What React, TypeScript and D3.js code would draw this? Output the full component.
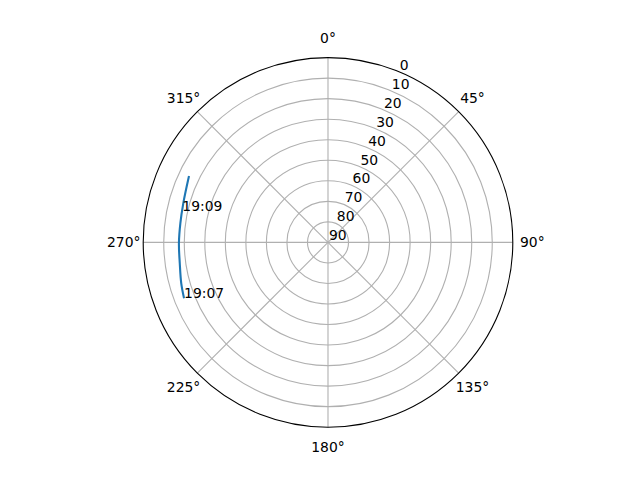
import React, { useEffect, useRef } from 'react';
import * as d3 from 'd3';

// satellite pass (azimuth deg clockwise from N, elevation deg)
const azimuth = [248.8, 254.4, 262.0, 269.7, 277.4, 285.1, 295.5];
const elevation = [14.8, 15.8, 17.1, 17.4, 17.5, 17.0, 15.0];
const annotations = [
  { label: '19:07', az: 248.8, el: 14.8 },
  { label: '19:09', az: 282.3, el: 17.4 },
];
const thetaTicks = [0, 45, 90, 135, 180, 225, 270, 315];
const radialTicks = [0, 10, 20, 30, 40, 50, 60, 70, 80, 90];

const App: React.FC = () => {
  const svgRef = useRef<SVGSVGElement>(null);

  useEffect(() => {
    if (!svgRef.current) return;
    d3.select(svgRef.current).selectAll('*').remove();

    const width = 640;
    const height = 480;
    const cx = 328;
    const cy = 242.4;
    const radius = 184.8;
    const font = 'DejaVu Sans, sans-serif';
    const fontSize = 13.9;

    const svg = d3
      .select(svgRef.current)
      .attr('width', width)
      .attr('height', height);

    svg.append('rect').attr('width', width).attr('height', height).attr('fill', 'white');

    const g = svg.append('g').attr('transform', `translate(${cx}, ${cy})`);

    // elevation 90 at centre, 0 at rim
    const r = d3.scaleLinear().domain([90, 0]).range([0, radius]);
    const toRad = (deg: number) => (deg * Math.PI) / 180;
    const px = (az: number, el: number) => r(el) * Math.sin(toRad(az));
    const py = (az: number, el: number) => -r(el) * Math.cos(toRad(az));

    // grid circles
    g.selectAll('circle.grid')
      .data(radialTicks.filter((d) => d > 0 && d < 90))
      .enter()
      .append('circle')
      .attr('r', (d) => r(d))
      .attr('fill', 'none')
      .attr('stroke', '#b0b0b0')
      .attr('stroke-width', 1.1);

    // spokes
    g.selectAll('line.spoke')
      .data(thetaTicks)
      .enter()
      .append('line')
      .attr('x1', 0)
      .attr('y1', 0)
      .attr('x2', (d) => px(d, 0))
      .attr('y2', (d) => py(d, 0))
      .attr('stroke', '#b0b0b0')
      .attr('stroke-width', 1.1);

    // outer spine
    g.append('circle')
      .attr('r', r(0))
      .attr('fill', 'none')
      .attr('stroke', 'black')
      .attr('stroke-width', 1.1);

    // theta labels
    const labelR = radius + 19.5;
    g.selectAll('text.theta')
      .data(thetaTicks)
      .enter()
      .append('text')
      .attr('x', (d) => labelR * Math.sin(toRad(d)))
      .attr('y', (d) => -labelR * Math.cos(toRad(d)))
      .attr('dy', '0.35em')
      .attr('text-anchor', 'middle')
      .attr('font-family', font)
      .attr('font-size', fontSize)
      .text((d) => `${d}°`);

    // radial labels along 22.5°
    g.selectAll('text.rlabel')
      .data(radialTicks)
      .enter()
      .append('text')
      .attr('x', (d) => px(22.5, d) + 1)
      .attr('y', (d) => py(22.5, d) - 2)
      .attr('font-family', font)
      .attr('font-size', fontSize)
      .text((d) => `${d}`);

    // pass track
    const line = d3
      .line<number>()
      .x((_, i) => px(azimuth[i], elevation[i]))
      .y((_, i) => py(azimuth[i], elevation[i]))
      .curve(d3.curveCatmullRom);

    g.append('path')
      .datum(azimuth)
      .attr('d', line)
      .attr('fill', 'none')
      .attr('stroke', '#1f77b4')
      .attr('stroke-width', 2.1);

    // time annotations
    g.selectAll('text.ann')
      .data(annotations)
      .enter()
      .append('text')
      .attr('x', (d) => px(d.az, d.el))
      .attr('y', (d) => py(d.az, d.el))
      .attr('font-family', font)
      .attr('font-size', fontSize)
      .text((d) => d.label);
  }, []);

  return (
    <svg ref={svgRef} style={{ position: 'absolute', left: 0, top: 0, display: 'block' }}></svg>
  );
};

export default App;
